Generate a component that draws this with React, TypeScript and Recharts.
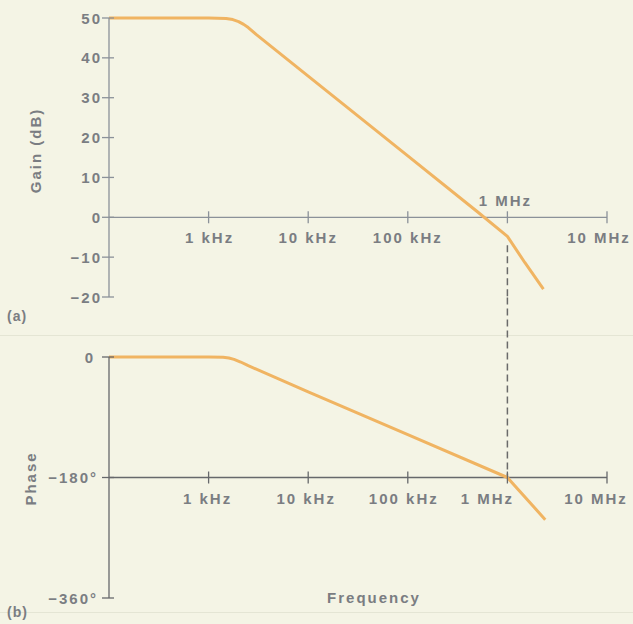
import React from 'react';
import {
  LineChart,
  Line,
  XAxis,
  YAxis,
  ReferenceLine,
  ReferenceDot
} from 'recharts';

// Frequencies in Hz (100 Hz .. 10 MHz)
const freqTicks = [1e3, 1e4, 1e5, 1e6, 1e7];
const freqLabels = ['1 kHz', '10 kHz', '100 kHz', '1 MHz', '10 MHz'];

// (a) open-loop gain
const gainFreq = [100, 1000, 1500, 1750, 2000, 2250, 2500, 3000, 10000, 100000, 500000, 1000000, 1500000, 2300000];
const gainDb = [50, 50, 49.9, 49.6, 49.1, 48.4, 47.6, 45.9, 35.4, 15.4, 1.4, -4.8, -11.4, -18];
const gainTicks = [50, 40, 30, 20, 10, 0, -10, -20];

// (b) phase
const phaseFreq = [100, 1000, 1400, 1600, 1800, 2100, 2500, 10000, 100000, 1000000, 2400000];
const phaseDeg = [0, 0, -0.5, -1.5, -3.5, -7.5, -13, -52, -116, -180, -243];
const phaseTicks = [0, -180, -360];

// dashed marker at 1 MHz joining the two plots
const markerFreq = 1e6;
const markerGainTop = -7;
const markerPhaseTop = 89;

const gainData = gainFreq.map((f, i) => ({ f, v: gainDb[i] }));
const phaseData = phaseFreq.map((f, i) => ({ f, v: phaseDeg[i] }));

const FONT = '"Liberation Sans", Arial, sans-serif';
const TEXT = '#7a7d82';
const CURVE = '#f0b462';
const TOP_AXIS = '#8b9199';
const BOTTOM_AXIS = '#66686b';
const textStyle = { fontFamily: FONT, fontSize: 15, fontWeight: 700, letterSpacing: 2 };

// label nudges [dx, dy] per tick, relative to the tick on the axis line
const gainLabelShift: Record<number, [number, number]> = {
  1e3: [1, 20], 1e4: [0, 20], 1e5: [0, 20], 1e6: [-2, -17], 1e7: [-8, 20]
};
const phaseLabelShift: Record<number, [number, number]> = {
  1e3: [-1, 21], 1e4: [-2, 21], 1e5: [-4, 21], 1e6: [-20, 21], 1e7: [-11, 21]
};

const minus = (v: number) => (v < 0 ? `\u2212${Math.abs(v)}` : `${v}`);

const XTick = (props: any) => {
  const { cx, cy, label, shift, lineColor } = props;
  const [dx, dy] = shift;
  return (
    <g>
      <line x1={cx} x2={cx} y1={cy - 6} y2={cy + 6} stroke={lineColor} strokeWidth={1.3} />
      <text x={cx + dx} y={cy + dy} textAnchor="middle" dominantBaseline="central" fill={TEXT} style={textStyle}>
        {label}
      </text>
    </g>
  );
};

const YTick = (props: any) => {
  const { x, y, payload, lineColor, degrees } = props;
  const v = payload.value;
  const text = degrees && v !== 0 ? `${minus(v)}\u00b0` : minus(v);
  const gap = degrees ? (v === 0 ? 14 : 11) : 7;
  return (
    <g>
      <line x1={x - 7} x2={x + 5} y1={y} y2={y} stroke={lineColor} strokeWidth={1.3} />
      <text x={x - gap} y={y} textAnchor="end" dominantBaseline="central" fill={TEXT} style={textStyle}>
        {text}
      </text>
    </g>
  );
};

const SideTitle = (props: any) => {
  const { viewBox, text, left, shift } = props;
  const vb = viewBox || { x: 0, y: 0, width: 0, height: 0 };
  const cy = vb.y + vb.height / 2 + shift;
  return (
    <text
      x={left}
      y={cy}
      transform={`rotate(-90 ${left} ${cy})`}
      textAnchor="middle"
      dominantBaseline="central"
      fill={TEXT}
      style={textStyle}
    >
      {text}
    </text>
  );
};

const BottomTitle = (props: any) => {
  const { viewBox, text, shiftX, shiftY } = props;
  const vb = viewBox || { x: 0, y: 0, width: 0, height: 0 };
  return (
    <text
      x={vb.x + vb.width / 2 + shiftX}
      y={vb.y + shiftY}
      textAnchor="middle"
      dominantBaseline="central"
      fill={TEXT}
      style={textStyle}
    >
      {text}
    </text>
  );
};

const tag = (top: number): React.CSSProperties => ({
  position: 'absolute',
  left: 7,
  top,
  fontFamily: FONT,
  fontSize: 14,
  fontWeight: 700,
  letterSpacing: 1,
  color: TEXT
});

const rule = (top: number): React.CSSProperties => ({
  position: 'absolute',
  left: 0,
  top,
  width: 633,
  height: 1,
  background: '#e4e5d4'
});

export default function App() {
  return (
    <div
      style={{
        position: 'fixed',
        left: 0,
        top: 0,
        width: 633,
        height: 624,
        background: '#f4f4e5',
        overflow: 'hidden'
      }}
    >
      <div style={rule(335)} />
      <div style={rule(612)} />

      <div style={{ position: 'absolute', left: 0, top: 0 }}>
        <LineChart width={633} height={312} data={gainData} margin={{ top: 18, right: 26, bottom: 15, left: 0 }}>
          <XAxis dataKey="f" type="number" scale="log" domain={[100, 1e7]} allowDataOverflow hide />
          <YAxis
            type="number"
            domain={[-20, 50]}
            ticks={gainTicks}
            interval={0}
            width={109}
            tickSize={0}
            tickMargin={0}
            tickLine={false}
            axisLine={{ stroke: TOP_AXIS, strokeWidth: 1.3 }}
            tick={<YTick lineColor={TOP_AXIS} degrees={false} />}
            label={<SideTitle text="Gain (dB)" left={35} shift={-7} />}
          />
          <ReferenceLine y={0} stroke={TOP_AXIS} strokeWidth={1.3} />
          {freqTicks.map((f, i) => (
            <ReferenceDot
              key={f}
              x={f}
              y={0}
              ifOverflow="visible"
              shape={(p: any) => (
                <XTick {...p} label={freqLabels[i]} shift={gainLabelShift[f]} lineColor={TOP_AXIS} />
              )}
            />
          ))}
          <ReferenceLine
            segment={[{ x: markerFreq, y: markerGainTop }, { x: markerFreq, y: -20 }]}
            stroke="#6a6a6a"
            strokeWidth={1.5}
            strokeDasharray="7 4"
            ifOverflow="visible"
          />
          <Line
            type="linear"
            dataKey="v"
            stroke={CURVE}
            strokeWidth={3}
            strokeLinejoin="round"
            dot={false}
            activeDot={false}
            isAnimationActive={false}
          />
        </LineChart>
      </div>

      <div style={{ position: 'absolute', left: 0, top: 297 }}>
        <LineChart width={633} height={327} data={phaseData} margin={{ top: 60, right: 26, bottom: 6, left: 0 }}>
          <XAxis
            dataKey="f"
            type="number"
            scale="log"
            domain={[100, 1e7]}
            allowDataOverflow
            height={20}
            tick={false}
            tickLine={false}
            axisLine={false}
            label={<BottomTitle text="Frequency" shiftX={16} shiftY={-1} />}
          />
          <YAxis
            type="number"
            domain={[-360, 0]}
            ticks={phaseTicks}
            interval={0}
            width={109}
            tickSize={0}
            tickMargin={0}
            tickLine={false}
            axisLine={{ stroke: BOTTOM_AXIS, strokeWidth: 1.3 }}
            tick={<YTick lineColor={BOTTOM_AXIS} degrees />}
            label={<SideTitle text="Phase" left={30} shift={1} />}
          />
          <ReferenceLine y={-180} stroke={BOTTOM_AXIS} strokeWidth={1.3} />
          {freqTicks.map((f, i) => (
            <ReferenceDot
              key={f}
              x={f}
              y={-180}
              ifOverflow="visible"
              shape={(p: any) => (
                <XTick {...p} label={freqLabels[i]} shift={phaseLabelShift[f]} lineColor={BOTTOM_AXIS} />
              )}
            />
          ))}
          <ReferenceLine
            segment={[{ x: markerFreq, y: markerPhaseTop }, { x: markerFreq, y: -180 }]}
            stroke="#6a6a6a"
            strokeWidth={1.5}
            strokeDasharray="7 4"
            ifOverflow="visible"
          />
          <Line
            type="linear"
            dataKey="v"
            stroke={CURVE}
            strokeWidth={3}
            strokeLinejoin="round"
            dot={false}
            activeDot={false}
            isAnimationActive={false}
          />
        </LineChart>
      </div>

      <div style={tag(308)}>(a)</div>
      <div style={tag(604)}>(b)</div>
    </div>
  );
}
